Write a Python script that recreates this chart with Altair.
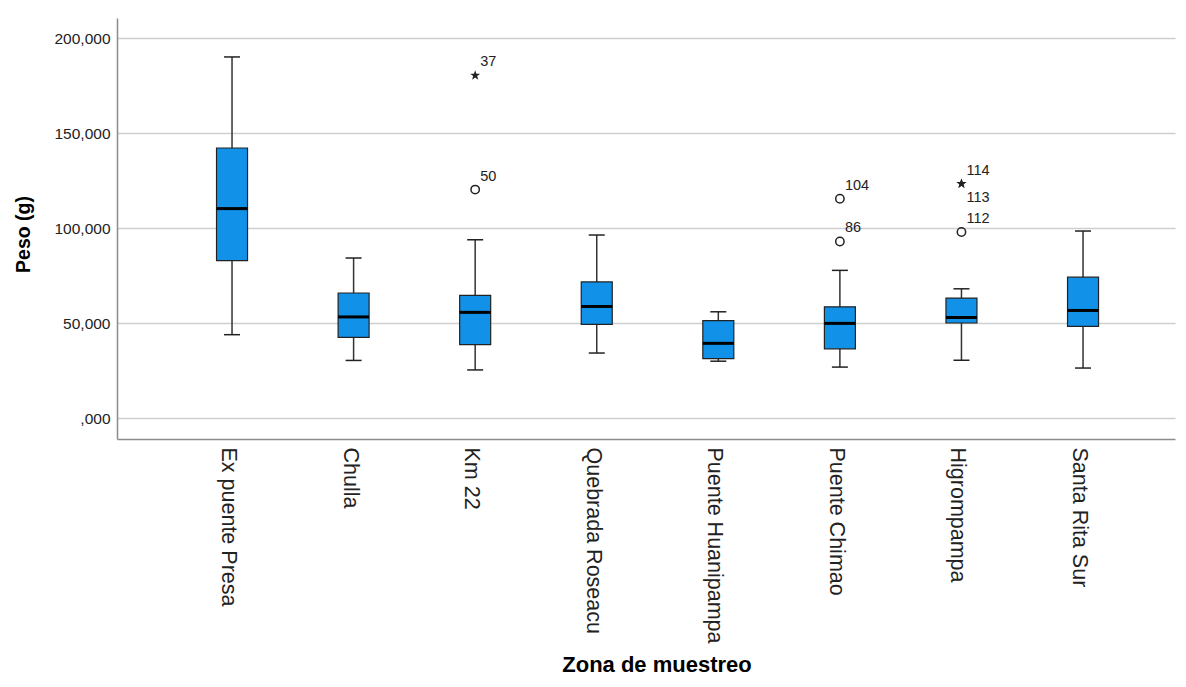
import altair as alt
import pandas as pd

# ---- data (Peso en g, decimal comma on the axis) ----
zonas = ["Ex puente Presa", "Chulla", "Km 22", "Quebrada Roseacu",
         "Puente Huanipampa", "Puente Chimao", "Higrompampa", "Santa Rita Sur"]
bigote_inf = [44.05, 30.5, 25.5, 34.4, 30.1, 27.0, 30.6, 26.5]
cuartil_1 = [83.0, 42.6, 38.8, 49.5, 31.5, 36.6, 50.2, 48.4]
mediana = [110.4, 53.4, 55.8, 58.9, 39.5, 50.0, 53.1, 56.8]
cuartil_3 = [142.3, 66.0, 64.7, 71.8, 51.5, 58.7, 63.3, 74.3]
bigote_sup = [190.2, 84.4, 94.0, 96.5, 56.1, 77.9, 68.2, 98.6]

atip_zona = ["Km 22", "Km 22", "Puente Chimao", "Puente Chimao",
             "Higrompampa", "Higrompampa", "Higrompampa"]
atip_valor = [180.5, 120.4, 115.6, 93.1, 123.5, 123.5, 98.1]
atip_caso = ["37", "50", "104", "86", "114", "113", "112"]
atip_tipo = ["extremo", "atipico", "atipico", "atipico", "extremo", "extremo", "atipico"]

y_ticks = [0, 50, 100, 150, 200]

box = pd.DataFrame({
    "zona": zonas, "lo": bigote_inf, "q1": cuartil_1,
    "med": mediana, "q3": cuartil_3, "hi": bigote_sup,
})
out = pd.DataFrame({
    "zona": atip_zona, "valor": atip_valor, "caso": atip_caso, "tipo": atip_tipo,
})
# second case sharing the same value gets its label below the marker
out["abajo"] = out.duplicated(subset=["zona", "valor"], keep="first")

FONT = "Liberation Sans"
STAR = ("M0,-1L0.235,-0.324L0.951,-0.309L0.380,0.124L0.588,0.809L0,0.4"
        "L-0.588,0.809L-0.380,0.124L-0.951,-0.309L-0.235,-0.324Z")

xscale = alt.Scale(type="band", paddingInner=0, paddingOuter=0.3513,
                   align=0.635, round=False)
xaxis = alt.Axis(
    title="Zona de muestreo", labelAngle=90, labelFont=FONT, labelFontSize=21.5,
    labelColor="#222222", labelPadding=8, labelOffset=-4, labelLimit=0,
    labelOverlap=False, ticks=False, domainColor="#8c8c8c", domainWidth=1.5,
    titleFont=FONT, titleFontSize=22, titleFontWeight="bold", titleColor="#000000",
    titleX=539.5, titleY=232, titleBaseline="alphabetic", titleAlign="center",
    grid=False,
)
yscale = alt.Scale(domain=[-10.84, 210.7], nice=False, zero=False)
yaxis = alt.Axis(
    title="Peso (g)", values=y_ticks,
    labelExpr="datum.value == 0 ? ',000' : replace(format(datum.value, '.3f'), '.', ',')",
    labelFont=FONT, labelFontSize=15.5, labelColor="#222222", labelPadding=7,
    ticks=False, domainColor="#8c8c8c", domainWidth=1.5,
    grid=True, gridColor="#cfcfcf", gridWidth=1.5,
    titleFont=FONT, titleFontSize=19.5, titleFontWeight="bold", titleColor="#000000",
    titlePadding=20, titleY=216,
)

X = alt.X("zona:N", sort=zonas, scale=xscale, axis=xaxis)


def Y(field):
    return alt.Y(f"{field}:Q", scale=yscale, axis=yaxis)


base = alt.Chart(box)
bigote = base.mark_rule(color="#333333", strokeWidth=1.5).encode(x=X, y=Y("lo"), y2="hi:Q")
tope_inf = base.mark_tick(color="#222222", size=16, thickness=1.5, opacity=1).encode(x=X, y=Y("lo"))
tope_sup = base.mark_tick(color="#222222", size=16, thickness=1.5, opacity=1).encode(x=X, y=Y("hi"))
caja = base.mark_bar(size=31, color="#1192e8", stroke="#222222", strokeWidth=1.2,
                     opacity=1).encode(x=X, y=Y("q1"), y2="q3:Q")
med = base.mark_tick(color="#000000", size=31, thickness=3, opacity=1).encode(x=X, y=Y("med"))

obase = alt.Chart(out)
circ = obase.mark_point(shape="circle", size=70, filled=False, color="#222222",
                        strokeWidth=1.5, opacity=1).encode(
    x=X, y=Y("valor")).transform_filter(alt.datum.tipo == "atipico")
estr = obase.mark_point(shape=STAR, size=110, filled=True, color="#222222",
                        opacity=1).encode(
    x=X, y=Y("valor")).transform_filter(alt.datum.tipo == "extremo")
lab_arriba = obase.mark_text(align="left", baseline="alphabetic", dx=5, dy=-9,
                             font=FONT, fontSize=14.5, color="#222222").encode(
    x=X, y=Y("valor"), text="caso:N").transform_filter("!datum.abajo")
lab_abajo = obase.mark_text(align="left", baseline="alphabetic", dx=5, dy=18,
                            font=FONT, fontSize=14.5, color="#222222").encode(
    x=X, y=Y("valor"), text="caso:N").transform_filter("datum.abajo")

chart = alt.layer(bigote, tope_inf, tope_sup, caja, med, circ, estr, lab_arriba, lab_abajo).properties(
    width=1058, height=421,
    autosize=alt.AutoSizeParams(type="none"),
    padding={"left": 109, "top": 10, "right": 3, "bottom": 240},
    background="white",
).configure_view(strokeWidth=0)

chart.save("out.html", embed_options={"renderer": "svg", "actions": False})
